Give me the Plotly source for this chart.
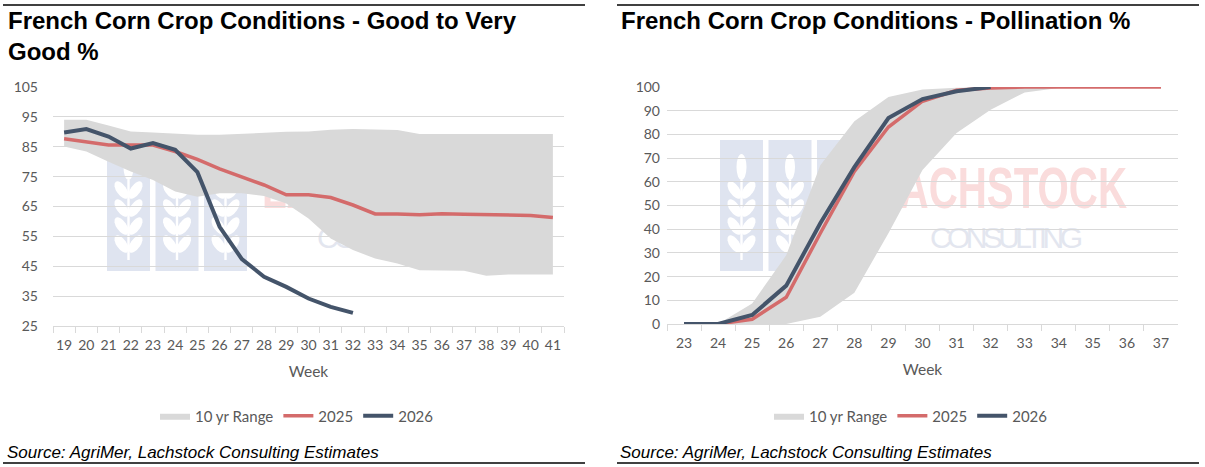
import base64
import plotly.graph_objects as go

# chart 1: crop condition, good to very good %
weeks_cond = [str(w) for w in range(19, 42)]
cond_lo = [85.1, 83.4, 80.0, 76.7, 73.9, 70.0, 68.3, 69.4, 69.4, 68.5, 66.0, 61.0,
           54.3, 50.4, 47.6, 45.9, 43.7, 43.5, 43.5, 41.8, 42.2, 42.2, 42.2]
cond_hi = [94.0, 94.0, 92.1, 90.1, 89.8, 89.3, 89.0, 89.0, 89.3, 89.8, 90.0, 90.1,
           90.7, 90.9, 90.7, 90.6, 89.3, 89.3, 89.3, 89.3, 89.3, 89.3, 89.3]
cond_2025 = [87.7, 86.7, 85.6, 85.6, 85.6, 83.4, 80.8, 77.6, 75.0, 72.2, 68.9, 68.9,
             68.0, 65.5, 62.5, 62.5, 62.2, 62.6, 62.4, 62.3, 62.0, 62.0, 61.3]
cond_2026 = [89.8, 90.9, 88.4, 84.4, 86.2, 84.0, 76.5, 58.2, 47.4, 41.5, 38.1, 34.2,
             31.4, 29.4] + [None] * 9

# chart 2: pollination %
weeks_poll = [str(w) for w in range(23, 38)]
poll_lo = [0, 0, 0, 0, 3.1, 13.2, 38.3, 65.0, 80.6, 90.4, 97.7, 99.6, 100, 100, 100]
poll_hi = [0, 0, 8.7, 29.0, 67.0, 85.5, 95.8, 98.9, 99.7, 100, 100, 100, 100, 100, 100]
poll_2025 = [0, 0, 2.0, 11.3, 38.3, 64.4, 83.1, 94.0, 98.6, 99.6, 100, 100, 100, 100, 100]
poll_2026 = [0, 0, 3.8, 16.2, 42.5, 66.2, 86.9, 94.9, 98.2, 100] + [None] * 5

W, H = 1205, 467
RED = "#D46B6B"
NAVY = "#44546A"
BAND = "#D9D9D9"
TXT = "#595959"
FONT = "Lato"


def px(x):
    return x / W


def py(y):
    return 1 - y / H


# watermark logo as a small svg, placed under the grid
def logo_svg():
    parts = ['<svg xmlns="http://www.w3.org/2000/svg" width="410" height="135" viewBox="0 0 410 135">']
    for i in range(3):
        x0 = i * 48.5
        cx = x0 + 21.5
        parts.append(f'<rect x="{x0}" y="0" width="43" height="131" fill="#DFE4F0"/>')
        parts.append(f'<g fill="#FFFFFF"><ellipse cx="{cx}" cy="27" rx="5" ry="13"/>')
        parts.append(f'<rect x="{cx - 1.2}" y="40" width="2.4" height="80"/>')
        for k in range(4):
            yy = 50 + k * 18
            parts.append(f'<ellipse cx="{cx - 7}" cy="{yy}" rx="5" ry="10" transform="rotate(-35 {cx - 7} {yy})"/>')
            parts.append(f'<ellipse cx="{cx + 7}" cy="{yy}" rx="5" ry="10" transform="rotate(35 {cx + 7} {yy})"/>')
        parts.append('</g>')
    parts.append('<text x="155" y="68" font-family="Liberation Sans" font-weight="bold" font-size="58" '
                 'fill="#FADCDC" textLength="252" lengthAdjust="spacingAndGlyphs">LACHSTOCK</text>')
    parts.append('<text x="210" y="108" font-family="Liberation Sans" font-size="30" '
                 'fill="#E3E6EF" textLength="153" lengthAdjust="spacing">CONSULTING</text>')
    parts.append('</svg>')
    return "data:image/svg+xml;base64," + base64.b64encode("".join(parts).encode()).decode()


logo = logo_svg()

fig = go.Figure()

# left chart
fig.add_trace(go.Scatter(x=weeks_cond, y=cond_lo, mode="lines", line=dict(width=0),
                         showlegend=False, hoverinfo="skip", xaxis="x", yaxis="y"))
fig.add_trace(go.Scatter(x=weeks_cond, y=cond_hi, mode="lines", line=dict(width=0),
                         fill="tonexty", fillcolor=BAND, name="10 yr Range",
                         xaxis="x", yaxis="y", legend="legend"))
fig.add_trace(go.Scatter(x=weeks_cond, y=cond_2025, mode="lines", line=dict(color=RED, width=3.5),
                         name="2025", xaxis="x", yaxis="y", legend="legend"))
fig.add_trace(go.Scatter(x=weeks_cond, y=cond_2026, mode="lines", line=dict(color=NAVY, width=4),
                         name="2026", xaxis="x", yaxis="y", legend="legend"))

# right chart
fig.add_trace(go.Scatter(x=weeks_poll, y=poll_lo, mode="lines", line=dict(width=0),
                         showlegend=False, hoverinfo="skip", xaxis="x2", yaxis="y2"))
fig.add_trace(go.Scatter(x=weeks_poll, y=poll_hi, mode="lines", line=dict(width=0),
                         fill="tonexty", fillcolor=BAND, name="10 yr Range",
                         xaxis="x2", yaxis="y2", legend="legend2"))
fig.add_trace(go.Scatter(x=weeks_poll, y=poll_2025, mode="lines", line=dict(color=RED, width=3.5),
                         name="2025", xaxis="x2", yaxis="y2", legend="legend2"))
fig.add_trace(go.Scatter(x=weeks_poll, y=poll_2026, mode="lines", line=dict(color=NAVY, width=4),
                         name="2026", xaxis="x2", yaxis="y2", legend="legend2"))

xcommon = dict(type="category", tickson="boundaries", ticks="outside", ticklen=6,
               tickcolor=BAND, showline=True, linecolor=BAND, linewidth=1, showgrid=False,
               tickangle=0, automargin=False,
               tickfont=dict(family=FONT, size=14, color=TXT), ticklabelstandoff=6,
               title=dict(text="Week", font=dict(family=FONT, size=15.5, color=TXT), standoff=14))
ycommon = dict(showgrid=True, gridcolor=BAND, gridwidth=1, zeroline=False, showline=False,
               ticks="", automargin=False, tickfont=dict(family=FONT, size=14, color=TXT))

legcommon = dict(orientation="h", xanchor="center", yanchor="middle", y=py(416),
                 font=dict(family=FONT, size=15, color=TXT), bgcolor="rgba(0,0,0,0)",
                 itemwidth=30, traceorder="normal")

fig.update_layout(
    template="none",
    width=W, height=H,
    margin=dict(l=0, r=0, t=0, b=0, pad=0, autoexpand=False),
    paper_bgcolor="white", plot_bgcolor="rgba(0,0,0,0)",
    xaxis=dict(domain=[px(53), px(564)], anchor="y",
               range=[-0.5, len(weeks_cond) - 0.5], **xcommon),
    yaxis=dict(domain=[py(326), py(87)], anchor="x", range=[25, 105], tick0=25, dtick=10,
               ticklabelstandoff=14, **ycommon),
    xaxis2=dict(domain=[px(667), px(1178)], anchor="y2",
                range=[-0.5, len(weeks_poll) - 0.5], **xcommon),
    yaxis2=dict(domain=[py(324), py(87)], anchor="x2", range=[0, 100], dtick=10,
                ticklabelstandoff=6, **ycommon),
    legend=dict(x=px(297), **legcommon),
    legend2=dict(x=px(911), **legcommon),
    images=[
        dict(source=logo, xref="paper", yref="paper", x=px(107), y=py(140),
             sizex=410 / W, sizey=135 / H, xanchor="left", yanchor="top",
             sizing="stretch", layer="below"),
        dict(source=logo, xref="paper", yref="paper", x=px(720), y=py(140),
             sizex=410 / W, sizey=135 / H, xanchor="left", yanchor="top",
             sizing="stretch", layer="below"),
    ],
    showlegend=True,
)

title_font = dict(family="Liberation Sans", size=24, color="black")
src_font = dict(family="Liberation Sans", size=17, color="black")
# titles anchored by their top edge so their boxes stay clear of the rule
notes = [
    (7, 6, "top", "<b>French Corn Crop Conditions - Good to Very</b>", title_font),
    (7, 37, "top", "<b>Good %</b>", title_font),
    (620, 6, "top", "<b>French Corn Crop Conditions - Pollination %</b>", title_font),
    (6, 452, "middle", "<i>Source: AgriMer, Lachstock Consulting Estimates</i>", src_font),
    (619, 452, "middle", "<i>Source: AgriMer, Lachstock Consulting Estimates</i>", src_font),
]
for x, y, ya, t, f in notes:
    fig.add_annotation(x=px(x), y=py(y), xref="paper", yref="paper", text=t, showarrow=False,
                       xanchor="left", yanchor=ya, font=f, bgcolor="rgba(0,0,0,0)",
                       borderpad=0)

# rules above titles and below sources
for x0, x1 in [(3, 585), (617, 1199)]:
    for y in (5, 463):
        fig.add_shape(type="line", xref="paper", yref="paper", x0=px(x0), x1=px(x1),
                      y0=py(y), y1=py(y), line=dict(color="black", width=1.6), layer="above")

# page body margin would push the figure off by 8px
fig.write_html("out.html", config={"displayModeBar": False},
               post_script="document.body.style.margin='0px'; window.scrollTo(0, 0);")
